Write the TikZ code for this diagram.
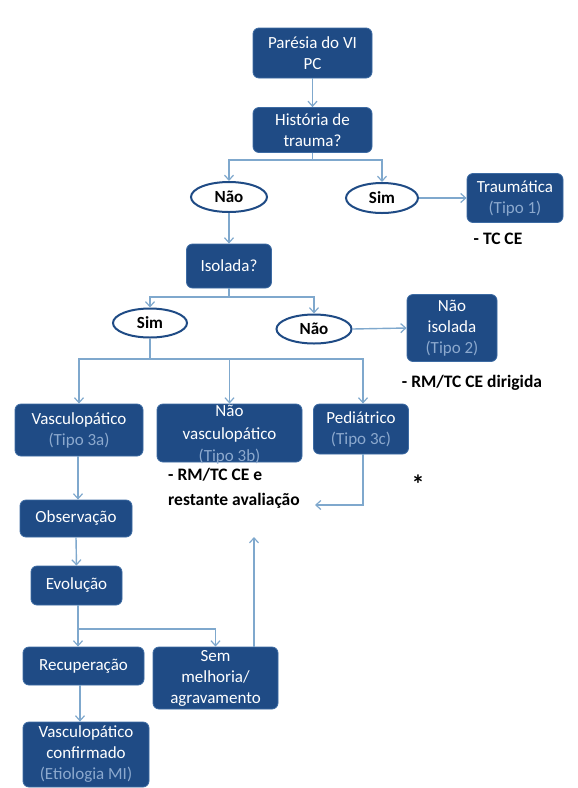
\documentclass[tikz,border=0pt]{standalone}
\usepackage{fontspec}
\setmainfont{Carlito}
\usetikzlibrary{shapes.geometric,arrows.meta}
\definecolor{boxblue}{HTML}{1F4B85}
\definecolor{boxedge}{HTML}{3D6BA3}
\definecolor{tipo}{HTML}{8CA9CE}
\definecolor{link}{HTML}{7FA8CD}
\definecolor{elledge}{HTML}{1F4B85}
\tikzset{
  bx/.style={draw=boxedge, line width=0.8pt, fill=boxblue, rounded corners=6pt, text=white,
    align=center, inner sep=0pt, font=\fontsize{17}{21}\selectfont},
  ell/.style={ellipse, draw=elledge, line width=2pt, fill=white, inner sep=0pt,
    font=\fontsize{17}{18}\selectfont\bfseries},
  note/.style={font=\fontsize{17.5}{25}\selectfont\bfseries, align=left, inner sep=0pt},
  lk/.style={draw=link, line width=1.4pt},
  ar/.style={lk, -{Straight Barb[length=5pt,width=9pt,line width=1.2pt]}},
}
\newcommand{\tp}[1]{\textcolor{tipo}{#1}}
\begin{document}
\begin{tikzpicture}[x=1pt,y=-1pt]
\useasboundingbox (0,0) rectangle (578,788);
\fill[white] (0,0) rectangle (578,788);
% nodes
\node[bx, minimum width=119pt, minimum height=50pt] (parc) at (312.5,53) {Parésia do VI\\PC};
\node[bx, minimum width=119pt, minimum height=45pt] (hist) at (312.5,130) {História de\\trauma?};
\node[ell, minimum width=76pt, minimum height=30pt] (nao1) at (229,197) {Não};
\node[ell, minimum width=72pt, minimum height=30pt] (sim1) at (382,198) {Sim};
\node[bx, minimum width=96pt, minimum height=49pt] (traum) at (515,198) {Traumática\\\tp{(Tipo 1)}};
\node[note] (tcce) at (498,239) {- TC CE};
\node[bx, minimum width=85pt, minimum height=44pt] (isol) at (229,266) {Isolada?};
\node[ell, minimum width=74pt, minimum height=29pt] (sim2) at (150,323) {Sim};
\node[ell, minimum width=75pt, minimum height=29pt] (nao2) at (314,329) {Não};
\node[bx, minimum width=90pt, minimum height=67pt] (naoiso) at (452,328) {Não\\isolada\\\tp{(Tipo 2)}};
\node[note] (rmdir) at (472,383) {- RM/TC CE dirigida};
\node[bx, minimum width=128pt, minimum height=52pt] (vasc) at (79,430) {Vasculopático\\\tp{(Tipo 3a)}};
\node[bx, minimum width=145pt, minimum height=58pt] (naovasc) at (229.5,433) {};
\node[align=center, text=white, inner sep=0pt, font=\fontsize{17}{22.5}\selectfont] (naovasct) at (229.5,435) {Não\\vasculopático\\\tp{(Tipo 3b)}};
\node[bx, minimum width=95pt, minimum height=50pt] (ped) at (361,429) {Pediátrico\\\tp{(Tipo 3c)}};
\node[note, anchor=west] (rmce) at (168,488) {- RM/TC CE e\\restante avaliação};
\node[font=\fontsize{26}{26}\selectfont\bfseries, inner sep=0pt] (star) at (418,484) {*};
\node[bx, minimum width=112pt, minimum height=37pt] (obs) at (76,518.5) {Observação};
\node[bx, minimum width=91pt, minimum height=39pt] (evol) at (76.5,585.5) {Evolução};
\node[bx, minimum width=121pt, minimum height=38pt] (recup) at (83.5,666) {Recuperação};
\node[bx, minimum width=125pt, minimum height=62pt] (sem) at (215.5,678) {Sem\\melhoria/\\agravamento};
\node[bx, minimum width=126pt, minimum height=65pt] (vconf) at (86,754.5) {Vasculopático\\confirmado\\\tp{(Etiologia MI)}};
% coordinates
\coordinate (s1) at (312.5,160);
\coordinate (s2) at (229,297);
\coordinate (s3) at (150,359);
\coordinate (s4) at (78,629);
\coordinate (upend) at (254,537);
\coordinate (pedbend) at (363,505);
\coordinate (pedend) at (315,505);
% connectors
\draw[ar] (parc.south) -- (hist.north);
\draw[lk] (hist.south) -- (s1);
\draw[ar] (s1) -| (nao1.north);
\draw[ar] (s1) -| (sim1.north);
\draw[ar] (sim1.east) -- (traum.west);
\draw[ar] (nao1.south) -- (isol.north);
\draw[lk] (isol.south) -- (s2);
\draw[ar] (s2) -| (sim2.north);
\draw[ar] (s2) -| (nao2.north);
\draw[ar] (nao2.east) -- (naoiso.west);
\draw[lk] (sim2.south) -- (s3);
\draw[ar] (s3) -| (vasc.north);
\draw[ar] (s3) -| (naovasc.north);
\draw[ar] (s3) -| (ped.north -| pedbend);
\draw[ar] (vasc.south -| s4) -- (obs.north -| s4);
\draw[ar] (obs.south) -- (evol.north);
\draw[ar] (evol.south -| s4) -- (recup.north -| s4);
\draw[ar] (s4) -| (sem.north);
\draw[ar] (recup.south -| 80,0) -- (vconf.north -| 80,0);
\draw[ar] (sem.north -| upend) -- (upend);
\draw[ar] (ped.south -| pedbend) |- (pedend);
\end{tikzpicture}
\end{document}
